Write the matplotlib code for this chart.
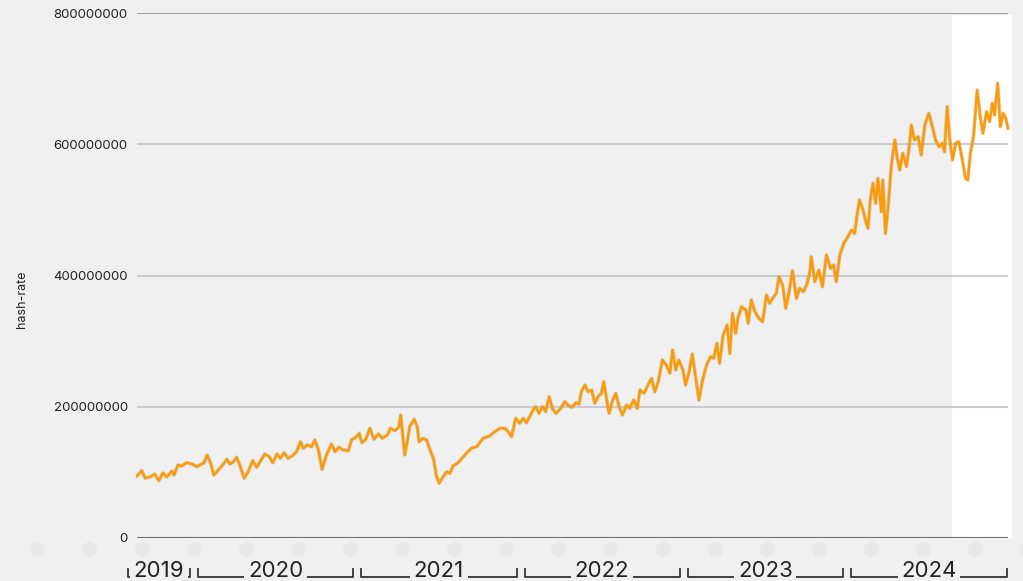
import numpy as np
import pandas as pd
import matplotlib
matplotlib.use("Agg")
import matplotlib.pyplot as plt
import matplotlib.transforms as mtransforms

plt.rcParams['font.family'] = ['Inter', 'DejaVu Sans']

# data: days since start, hash rate in millions
start = pd.Timestamp("2019-08-25")
days = [
    2, 13, 20, 31, 42, 51, 60, 69, 80, 85, 94, 102, 113, 125, 136, 147, 152, 159, 167, 174,
    184, 194, 203, 210, 218, 225, 232, 242, 251, 261, 270, 279, 288, 298, 306, 315, 323, 331, 340, 352,
    359, 368, 374,
    383, 393, 400, 408, 416, 426, 437, 445, 454, 463, 475, 482, 493, 499, 505, 514, 523, 532, 542, 551,
    562, 569, 579, 588, 592, 596, 601, 606, 612, 622, 629, 633, 642, 650, 657, 665, 672, 678, 686, 695,
    702, 709, 720, 732, 739, 750, 762,
    776, 791, 802, 814, 825, 832, 840, 849, 858, 866, 873, 881, 888, 894, 901, 909, 916, 924, 931, 939,
    948, 959, 966, 974, 984, 991, 996, 1004, 1011, 1019, 1026, 1033, 1041, 1046, 1052, 1058, 1066, 1073,
    1080, 1088, 1097, 1104, 1113, 1121,
    1127, 1136, 1145, 1153, 1160, 1168, 1177, 1186, 1194, 1200, 1207, 1214, 1223, 1229, 1237, 1244, 1252,
    1259, 1267, 1276, 1285, 1292, 1299, 1305, 1313, 1322, 1328, 1334, 1341, 1346, 1354, 1364, 1369, 1376,
    1384, 1393, 1401, 1410, 1417, 1426, 1432, 1438, 1446, 1453, 1460, 1468, 1477, 1484, 1493, 1501, 1507,
    1510, 1518, 1527, 1535, 1544, 1553, 1560, 1566, 1574, 1583, 1592, 1600, 1607, 1612, 1618, 1626, 1632,
    1637, 1642, 1648, 1654, 1659, 1667, 1670, 1676, 1682, 1689, 1697, 1702,
    1708, 1715, 1723, 1730, 1734, 1741, 1749, 1756, 1764, 1773, 1781, 1788, 1796, 1803, 1808, 1814, 1820,
    1826, 1833, 1840, 1848, 1855, 1860, 1866, 1873, 1881, 1888, 1894, 1902, 1909, 1915, 1920, 1927, 1933,
    1939, 1945, 1950,
]
hash_rate_m = [
    94.5, 102.6, 91.4, 93.0, 97.5, 87.3, 99.0, 93.0, 102.1, 96.0, 111.2, 109.7, 114.7, 112.8, 108.6,
    112.8, 114.3, 126.5, 113.8, 96.0, 103.6, 111.2, 119.9, 112.8, 116.3, 123.0, 111.2, 91.0, 101.0,
    117.8, 107.7, 117.8, 128.0, 123.9, 114.7, 128.0, 121.4, 130.0, 121.4, 126.5, 131.5, 146.7, 136.7,
    141.7, 139.1, 149.3, 134.1, 104.7, 126.5, 143.2, 131.5, 138.2, 134.1, 133.0, 149.3, 154.4, 159.5,
    145.2, 150.4, 167.2, 150.4, 158.5, 151.9, 157.0, 167.2, 163.5, 169.6, 187.4, 159.5, 126.5, 144.3,
    169.6, 180.9, 169.6, 146.7, 151.9, 149.3, 135.2, 121.4, 94.5, 83.4, 92.5, 101.0, 98.6, 109.7, 114.7,
    123.9, 129.1, 136.7, 139.1,
    151.9, 155.4, 162.0, 167.2, 167.2, 162.0, 154.4, 182.4, 174.8, 182.4, 175.7, 185.9, 195.0, 200.1,
    190.0, 200.1, 192.5, 215.3, 197.6, 190.0, 196.1, 207.7, 202.7, 199.2, 206.2, 204.2, 222.9, 233.1,
    222.9, 225.5, 205.3, 215.3, 220.5, 238.2, 212.9, 190.0, 210.3, 220.5, 201.1, 187.4, 202.7, 197.6,
    210.3, 197.6,
    225.5, 220.5, 233.1, 243.3, 222.9, 238.2, 271.2, 263.6, 251.0, 286.5, 256.0, 271.2, 256.0, 233.1,
    253.4, 280.4, 243.3, 210.3, 240.8, 263.6, 276.3, 273.8, 296.7, 266.2, 309.3, 324.6, 281.4, 342.4,
    311.9, 334.8, 352.5, 347.4, 327.2, 362.7, 344.8, 334.8, 329.6, 370.3, 357.6, 367.7, 372.9, 398.2,
    385.5, 350.0, 372.9, 407.3, 365.3, 380.5, 375.3, 388.1, 405.8,
    428.6, 390.6, 408.4, 382.9, 431.2, 411.0, 416.0, 390.6, 431.2, 449.1, 459.1, 469.3, 464.3, 489.6,
    515.0, 499.8, 482.0, 471.9, 515.0, 540.5, 510.0, 548.1, 497.2, 545.5, 464.3, 504.8, 565.8, 606.5,
    581.0,
    560.8, 586.2, 565.8, 601.4, 629.3, 606.5, 611.5, 583.6, 629.3, 647.2, 626.7, 606.5, 596.3, 601.4,
    588.6, 657.2, 606.5, 576.0, 601.4, 603.9, 576.0, 548.1, 545.5, 586.2, 611.5, 682.7, 642.0, 616.7,
    649.6, 634.4, 662.4, 644.6, 692.9, 626.7, 647.2, 639.5, 624.3,
]
y_ticks = [0, 200000000, 400000000, 600000000, 800000000]
years = [2019, 2020, 2021, 2022, 2023, 2024]
highlight_from = pd.Timestamp("2024-08-22")
x_end = pd.Timestamp("2025-01-04")

dates = start + pd.to_timedelta(days, unit="D")
hash_rate = np.array(hash_rate_m) * 1e6

bg = "#f0f0f0"
fig = plt.figure(figsize=(10.23, 5.81), dpi=100, facecolor=bg)
ax = fig.add_axes([136 / 1023, 1 - 538 / 581, (1012 - 136) / 1023, 525 / 581])
ax.set_facecolor(bg)
ax.set_xlim(start, x_end)
ax.set_ylim(0, 800e6)

# white band for the latest months
ax.axvspan(highlight_from, x_end, ymin=0, ymax=523 / 525, color="white", lw=0, zorder=0)

# gridlines
grid_colors = ["#6b6b6b", "#cbcbcb", "#cbcbcb", "#cbcbcb", "#a5a5a5"]
ax.hlines(y_ticks, dates[0], dates[-1], colors=grid_colors, lw=1.5, zorder=1)

# line with a soft grey edge
ax.plot(dates, hash_rate, color="#9a8a6a", lw=2.8, alpha=0.3, zorder=2, solid_joinstyle="round")
ax.plot(dates, hash_rate, color="#fd9b06", lw=1.8, zorder=3, solid_joinstyle="round")

for s in ax.spines.values():
    s.set_visible(False)
ax.set_xticks([])
ax.set_yticks(y_ticks, labels=[str(t) for t in y_ticks])
ax.tick_params(axis="y", length=0, pad=6, labelsize=9.5, labelcolor="#222222")

fig.text(22 / 1023, 1 - 299 / 581, "hash-rate", rotation=90, ha="center", va="center",
         fontsize=9, color="#222222")

# year brackets under the axis
trans = mtransforms.blended_transform_factory(ax.transData, ax.transAxes)
y_line = -39 / 525
y_tip = -31 / 525
gap = pd.Timedelta(days=9)
for yr in years:
    x0 = max(pd.Timestamp(yr, 1, 1) + gap, start - pd.Timedelta(days=17))
    x1 = min(pd.Timestamp(yr + 1, 1, 1) - gap, x_end)
    ax.plot([x0, x0, x1, x1], [y_tip, y_line, y_line, y_tip], transform=trans,
            color="#333333", lw=1.3, clip_on=False)
    mid = x0 + (x1 - x0) / 2
    ax.text(mid, y_line, str(yr), transform=trans, ha="center", va="baseline",
            fontsize=16, color="#222222", clip_on=False,
            bbox=dict(facecolor=bg, edgecolor="none", pad=2.5))

# faint dots row
dot_x = (37.3 + 52.1 * np.arange(20)) / 1023
dot_y = np.full(20, 1 - 548.5 / 581)
ax.scatter(dot_x, dot_y, s=115, color="#e8e8e8", lw=0, transform=fig.transFigure,
           clip_on=False, zorder=0)

fig.savefig("out.png", dpi=100, facecolor=bg)
